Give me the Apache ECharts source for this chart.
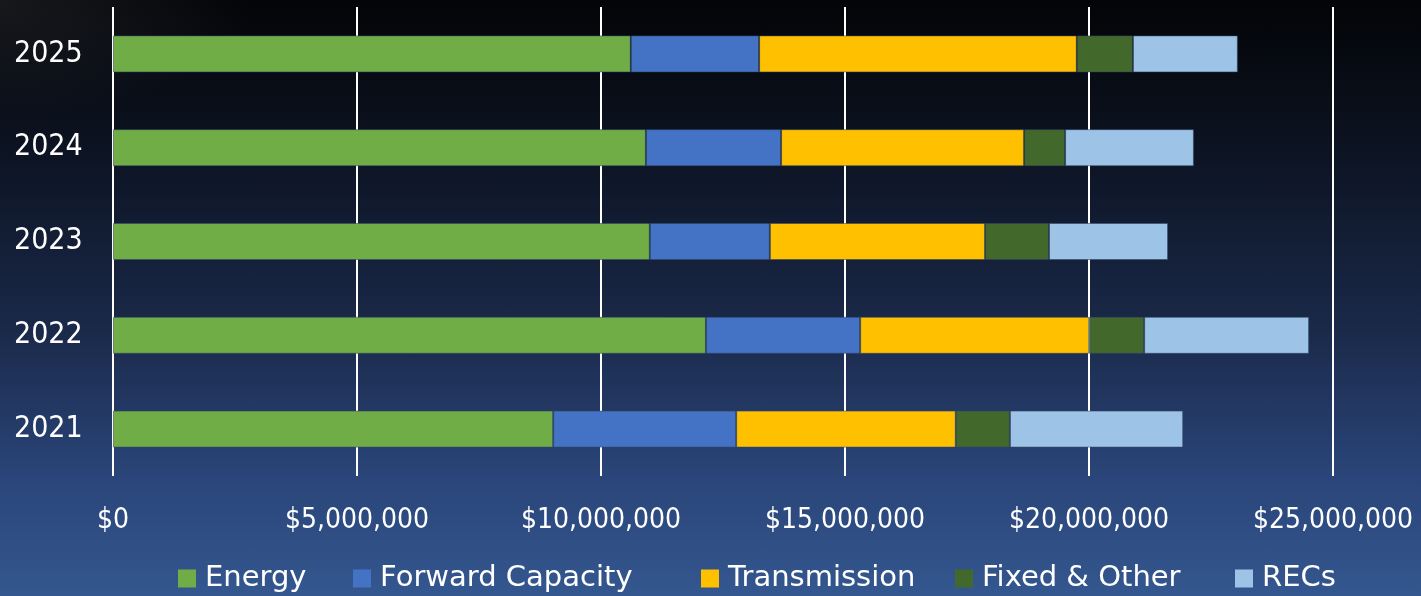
<!DOCTYPE html>
<html>
<head>
<meta charset="utf-8">
<script src="https://cdn.jsdelivr.net/npm/echarts@6/dist/echarts.min.js"></script>
<style>
html,body{margin:0;padding:0;}
body{width:1421px;height:596px;background:
 radial-gradient(ellipse 260px 120px at 0px 0px, rgba(70,70,75,0.3), rgba(0,0,0,0) 100%),
 linear-gradient(to bottom,#030406 0%,#0c1322 25%,#1a2949 55%,#2a4579 80%,#34578f 100%);overflow:hidden;}
#chart{width:1421px;height:596px;}
</style>
</head>
<body>
<div id="chart"></div>
<script>
const categories = ['2021','2022','2023','2024','2025'];
const seriesNames = ['Energy','Forward Capacity','Transmission','Fixed & Other','RECs'];
const energy        = [9020000, 12150000, 11000000, 10920000, 10610000];
const forwardCap    = [3750000,  3160000,  2460000,  2770000,  2630000];
const transmission  = [4500000,  4690000,  4410000,  4980000,  6510000];
const fixedOther    = [1110000,  1130000,  1310000,   840000,  1150000];
const recs          = [3550000,  3380000,  2440000,  2640000,  2150000];
const xTicks = { min: 0, max: 25000000, interval: 5000000 };

const colors = ['#70AD47','#4472C4','#FFC000','#43682B','#9DC3E6'];
const dataArrays = [energy, forwardCap, transmission, fixedOther, recs];
const legendLefts = [178, 353, 701, 955, 1235];

const chart = echarts.init(document.getElementById('chart'), null, {renderer:'canvas'});
chart.setOption({
  backgroundColor: 'transparent',
  animation: false,
  grid: { left: 113, right: 88, top: 7, bottom: 120, containLabel: false },
  legend: seriesNames.map((n, i) => ({
    left: legendLefts[i], top: 564, padding: 0,
    itemWidth: 18, itemHeight: 18,
    icon: 'rect',
    itemStyle: { borderWidth: 0 },
    textStyle: { color: '#ffffff', fontSize: 29, fontFamily: 'DejaVu Sans', padding: [0,0,0,4] },
    data: [n]
  })),
  xAxis: {
    type: 'value', min: xTicks.min, max: xTicks.max, interval: xTicks.interval,
    axisLine: { show: false }, axisTick: { show: false },
    splitLine: { show: true, lineStyle: { color: '#ffffff', width: 2 } },
    axisLabel: {
      color: '#ffffff', fontSize: 28, fontFamily: 'DejaVu Sans Condensed', margin: 31,
      formatter: v => '$' + v.toLocaleString('en-US')
    }
  },
  yAxis: {
    type: 'category', data: categories,
    axisLine: { show: false }, axisTick: { show: false }, splitLine: { show: false },
    axisLabel: { color: '#ffffff', fontSize: 30, fontFamily: 'DejaVu Sans Condensed', align: 'left', margin: 99, padding: [8,0,0,0] }
  },
  series: seriesNames.map((n, i) => ({
    name: n, type: 'bar', stack: 'total', barWidth: 37,
    data: dataArrays[i],
    itemStyle: { color: colors[i], borderColor: 'rgba(50,70,100,0.55)', borderWidth: 1 }
  }))
});
</script>
</body>
</html>
